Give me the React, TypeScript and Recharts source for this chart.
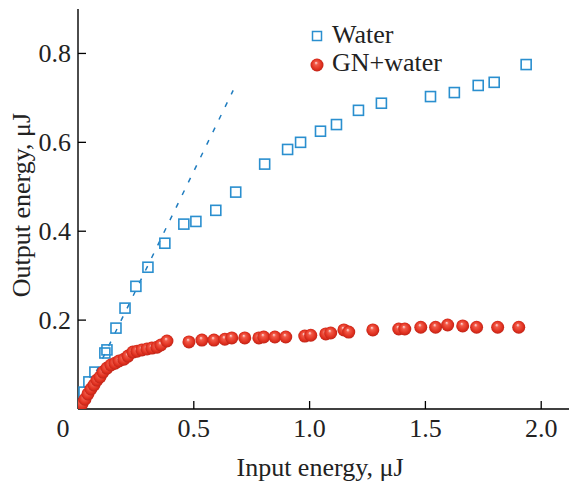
import { ScatterChart, Scatter, XAxis, YAxis } from "recharts";

// Water (open squares)
const waterX = [
  0.026, 0.047, 0.073, 0.116, 0.125, 0.164, 0.203, 0.25, 0.302, 0.375, 0.457,
  0.509, 0.595, 0.681, 0.806, 0.905, 0.961, 1.047, 1.116, 1.211, 1.31, 1.522,
  1.625, 1.728, 1.797, 1.935,
];
const waterY = [
  0.038, 0.061, 0.083, 0.126, 0.133, 0.182, 0.227, 0.276, 0.319, 0.373, 0.416,
  0.422, 0.447, 0.488, 0.551, 0.584, 0.6, 0.625, 0.64, 0.672, 0.688, 0.703,
  0.712, 0.728, 0.735, 0.775,
];

// GN+water (red spheres)
const gnX = [
  0.004, 0.017, 0.03, 0.043, 0.056, 0.069, 0.082, 0.095, 0.108, 0.125, 0.142,
  0.16, 0.177, 0.198, 0.216, 0.237, 0.255, 0.276, 0.298, 0.319, 0.341, 0.358,
  0.384, 0.479, 0.535, 0.587, 0.634, 0.664, 0.72, 0.781, 0.802, 0.85, 0.897,
  0.979, 1.005, 1.07, 1.091, 1.148, 1.169, 1.273, 1.385, 1.411, 1.48, 1.544,
  1.596, 1.661, 1.721, 1.812, 1.903,
];
const gnY = [
  0.004, 0.011, 0.022, 0.034, 0.045, 0.054, 0.065, 0.072, 0.083, 0.092, 0.099,
  0.103, 0.108, 0.112, 0.119, 0.128, 0.13, 0.133, 0.135, 0.137, 0.139, 0.144,
  0.153, 0.151, 0.155, 0.155, 0.157, 0.16, 0.16, 0.16, 0.162, 0.162, 0.162,
  0.164, 0.166, 0.169, 0.171, 0.178, 0.173, 0.178, 0.18, 0.18, 0.184, 0.184,
  0.189, 0.187, 0.184, 0.184, 0.184,
];

// linear fit for water, dashed
const fitX = [0, 0.67];
const fitY = [0, 0.717];

const xTicks = [0, 0.5, 1, 1.5, 2];
const yTicks = [0.2, 0.4, 0.6, 0.8];

const zip = (xs: number[], ys: number[]) => xs.map((x, i) => ({ x, y: ys[i] }));
const waterData = zip(waterX, waterY);
const gnData = zip(gnX, gnY);
const fitData = zip(fitX, fitY);

const FONT = "'Liberation Serif', 'Times New Roman', serif";
const BLUE = "#2a8fcf";
const LINE_BLUE = "#1f7cbf";

const Square = (props: any) => {
  const { cx, cy } = props;
  return (
    <rect x={cx - 5} y={cy - 5} width={10} height={10} fill="none" stroke={BLUE} strokeWidth={1.6} />
  );
};

const Sphere = (props: any) => {
  const { cx, cy } = props;
  return <circle cx={cx} cy={cy} r={6.5} fill="url(#sphereGrad)" />;
};

const XTick = (props: any) => {
  const { x, y, payload } = props;
  const v = payload.value;
  const label = v === 0 ? "0" : v.toFixed(1);
  return (
    <g>
      {v !== 0 && <line x1={x} y1={y} x2={x} y2={y - 8} stroke="#000" strokeWidth={1.3} />}
      <text x={v === 0 ? x - 15 : x} y={y + 28} textAnchor="middle" fontFamily={FONT} fontSize={26} fill="#222">
        {label}
      </text>
    </g>
  );
};

const YTick = (props: any) => {
  const { x, y, payload } = props;
  return (
    <g>
      <line x1={x} y1={y} x2={x + 8} y2={y} stroke="#000" strokeWidth={1.3} />
      <text x={x - 7} y={y + 9} textAnchor="end" fontFamily={FONT} fontSize={26} fill="#222">
        {payload.value.toFixed(1)}
      </text>
    </g>
  );
};

const LegendBox = () => (
  <svg width={220} height={70} style={{ position: "absolute", left: 300, top: 15 }}>
    <rect x={12.5} y={16.5} width={9} height={9} fill="none" stroke={BLUE} strokeWidth={1.5} />
    <text x={32} y={28} fontFamily={FONT} fontSize={26} fill="#222">Water</text>
    <circle cx={17} cy={50} r={6.5} fill="url(#sphereGrad)" />
    <text x={32} y={56} fontFamily={FONT} fontSize={26} fill="#222">GN+water</text>
  </svg>
);

export default function App() {
  return (
    <div style={{ position: "absolute", left: 0, top: 0, width: 569, height: 487, background: "#fff" }}>
      <svg width={0} height={0} style={{ position: "absolute" }}>
        <defs>
          <radialGradient id="sphereGrad" cx="0.5" cy="0.5" r="0.55" fx="0.42" fy="0.32">
            <stop offset="0%" stopColor="#ffe4e4" />
            <stop offset="25%" stopColor="#f25a48" />
            <stop offset="70%" stopColor="#e0301f" />
            <stop offset="100%" stopColor="#b52015" />
          </radialGradient>
        </defs>
      </svg>
      <ScatterChart width={569} height={487} margin={{ top: 9, right: 0, bottom: 0, left: 0 }}>
        <XAxis
          type="number"
          dataKey="x"
          domain={[0, 2.12]}
          ticks={xTicks}
          height={78}
          tickSize={0}
          tickMargin={0}
          tickLine={false}
          tick={<XTick />}
          axisLine={{ stroke: "#000", strokeWidth: 1.4 }}
          allowDataOverflow
          label={() => (
            <text x={320} y={476} textAnchor="middle" fontFamily={FONT} fontSize={26} fill="#222">
              Input energy, μJ
            </text>
          )}
        />
        <YAxis
          type="number"
          dataKey="y"
          domain={[0, 0.9]}
          ticks={yTicks}
          width={78}
          tickSize={0}
          tickMargin={0}
          tickLine={false}
          tick={<YTick />}
          axisLine={{ stroke: "#000", strokeWidth: 1.4 }}
          allowDataOverflow
          label={() => (
            <text x={30} y={205} transform="rotate(-90 30 205)" textAnchor="middle" fontFamily={FONT} fontSize={26} fill="#222">
              Output energy, μJ
            </text>
          )}
        />
        <Scatter
          data={fitData}
          line={{ stroke: LINE_BLUE, strokeWidth: 1.5, strokeDasharray: "5 9" }}
          shape={() => <g />}
          isAnimationActive={false}
          legendType="none"
        />
        <Scatter data={waterData} shape={<Square />} isAnimationActive={false} />
        <Scatter data={gnData} shape={<Sphere />} isAnimationActive={false} />
      </ScatterChart>
      <LegendBox />
    </div>
  );
}
